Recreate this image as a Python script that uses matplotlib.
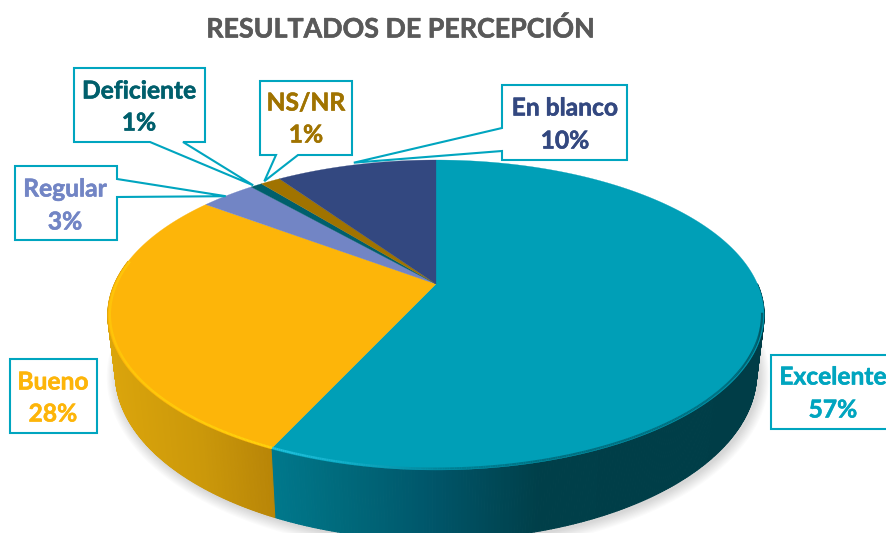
import numpy as np
import matplotlib
matplotlib.use("Agg")
import matplotlib.pyplot as plt
import matplotlib.patheffects as pe
from matplotlib.collections import LineCollection, PolyCollection
from matplotlib.colors import to_rgb
from matplotlib.patches import Polygon

# ---- data ----
categories = ["Excelente", "Bueno", "Regular", "Deficiente", "NS/NR", "En blanco"]
values = [56.9, 28.3, 3.3, 0.7, 1.2, 9.6]
title = "RESULTADOS DE PERCEPCIÓN"

# ---- styles ----
face_colors = ["#009FB7", "#FDB509", "#7285C5", "#005F6C", "#A07300", "#334880"]
text_colors = ["#00A5BF", "#FDB509", "#7285C5", "#005F6C", "#A07300", "#334880"]
box_edge = "#00A5BF"
plt.rcParams["font.family"] = ["Lato", "DejaVu Sans"]

# ---- projection of the tilted pie onto the page ----
X0, Y0, A, B, K = 436.0, 284.0, 321.5, 148.8, 0.20
DEPTH, SHRINK = 56.0, 0.977


def top(theta, r=1.0):
    u, v = r * np.sin(theta), r * np.cos(theta)
    w = 1 + K * v
    return X0 + A * u / w, Y0 - B * v / w


def bottom(theta):
    u, v = np.sin(theta), np.cos(theta)
    w = 1 + K * v
    return X0 + SHRINK * A * u / w, Y0 - B * v / w + DEPTH / w


def lerp_colors(x, stops):
    xs = [s[0] for s in stops]
    rgb = np.array([to_rgb(s[1]) for s in stops])
    return np.column_stack([np.interp(x, xs, rgb[:, i]) for i in range(3)])


fig = plt.figure(figsize=(8.86, 5.33), dpi=100)
ax = fig.add_axes([0, 0, 1, 1])
ax.set_xlim(0, 886)
ax.set_ylim(533, 0)
ax.axis("off")

edges = np.deg2rad(np.concatenate([[0], np.cumsum(values)]) * 3.6)

# soft shadow
circle = np.linspace(0, 2 * np.pi, 361)
for grow in np.linspace(1, 11, 10):
    bx, by = bottom(circle)
    ax.fill(X0 + 2 + (bx - X0) * (1 + grow / 330), by + 2 + (by - 345) * grow / 190,
            color="k", alpha=0.014, lw=0, zorder=1)

# side wall
side_stops = {
    0: [(271, "#00788C"), (340, "#006A7C"), (430, "#00566A"), (540, "#003F49"), (770, "#003D47")],
    1: [(105, "#DBA50C"), (200, "#CB980A"), (275, "#B78407")],
}
for i, (a0, a1) in enumerate([(np.pi / 2, edges[1]), (edges[1], 1.55 * np.pi)]):
    th = np.linspace(a0, a1, 260)
    tx, ty = top(th)
    bx, by = bottom(th)
    quads = [[(tx[j], ty[j]), (tx[j + 1], ty[j + 1]), (bx[j + 1], by[j + 1]), (bx[j], by[j])]
             for j in range(len(th) - 1)]
    cols = lerp_colors((tx[:-1] + tx[1:]) / 2, side_stops[i])
    ax.add_collection(PolyCollection(quads, facecolors=cols, edgecolors=cols, linewidths=0.8, zorder=2))

# top face
for i in range(len(values)):
    th = np.linspace(edges[i], edges[i + 1], 200)
    px, py = top(th)
    ax.fill(np.r_[X0, px], np.r_[Y0, py], color=face_colors[i], lw=0.2, zorder=3)

# bevel highlight on the front rim
rim_stops = {
    0: [(271, "#22C3DF"), (350, "#12AEC8"), (450, "#008094"), (560, "#006F80"), (720, "#006F80"), (765, "#00505C")],
    1: [(105, "#FFC90A"), (271, "#FFD40C")],
}
for i, (a0, a1) in enumerate([(0.56 * np.pi, edges[1]), (edges[1], 1.55 * np.pi)]):
    th = np.linspace(a0, a1, 300)
    px, py = top(th, 0.994)
    segs = np.stack([np.column_stack([px[:-1], py[:-1]]), np.column_stack([px[1:], py[1:]])], axis=1)
    cols = lerp_colors((px[:-1] + px[1:]) / 2, rim_stops[i])
    ax.add_collection(LineCollection(segs, colors=cols, linewidths=1.6, zorder=4))

# ---- callouts: box (left, top, right, bottom), leader base on one side, tip offset ----
boxes = {
    "Excelente": ((771, 355, 892, 429), None, None, (833, 377, 410)),
    "Bueno": ((10, 359, 97, 433), None, None, (53, 382, 414)),
    "Regular": ((15, 166, 117, 240), ("right", 179, 197), (-2, 1), (65, 189, 222)),
    "Deficiente": ((74, 68, 205, 142), ("bottom", 150, 183), (-3, 0), (139, 91, 123)),
    "NS/NR": ((260, 81, 352, 155), ("bottom", 276, 298), (-6, 0), (306, 103, 135)),
    "En blanco": ((502, 85, 627, 160), ("left", 128, 151), (-2, -2), (565, 108, 141)),
}
bold = [pe.withStroke(linewidth=0.4, foreground=None)]
for i, cat in enumerate(categories):
    (l, t, r, b), base, off, (tx, y1, y2) = boxes[cat]
    if base is None:
        pts = [(l, t), (r, t), (r, b), (l, b)]
    else:
        mid = (edges[i] + edges[i + 1]) / 2
        mx, my = top(mid)
        tip = (float(mx) + off[0], float(my) + off[1])
        side, p, q = base
        if side == "right":
            pts = [(l, t), (r, t), (r, p), tip, (r, q), (r, b), (l, b)]
        elif side == "bottom":
            pts = [(l, t), (r, t), (r, b), (q, b), tip, (p, b), (l, b)]
        else:
            pts = [(l, t), (r, t), (r, b), (l, b), (l, q), tip, (l, p)]
    ax.add_patch(Polygon(pts, closed=True, fc="white", ec=box_edge, lw=1.5, joinstyle="miter", zorder=6))
    for y, s in ((y1, cat), (y2, f"{round(values[i])}%")):
        t_ = ax.text(tx, y, s, color=text_colors[i], fontsize=17.7, fontweight="bold",
                     ha="center", va="center", zorder=7)
        t_.set_path_effects([pe.withStroke(linewidth=0.4, foreground=text_colors[i])])

t_ = ax.text(400, 29, title, color="#595959", fontsize=19.3, fontweight="bold",
             ha="center", va="center", zorder=7)
t_.set_path_effects([pe.withStroke(linewidth=0.4, foreground="#595959")])

fig.savefig("out.png", dpi=100)
